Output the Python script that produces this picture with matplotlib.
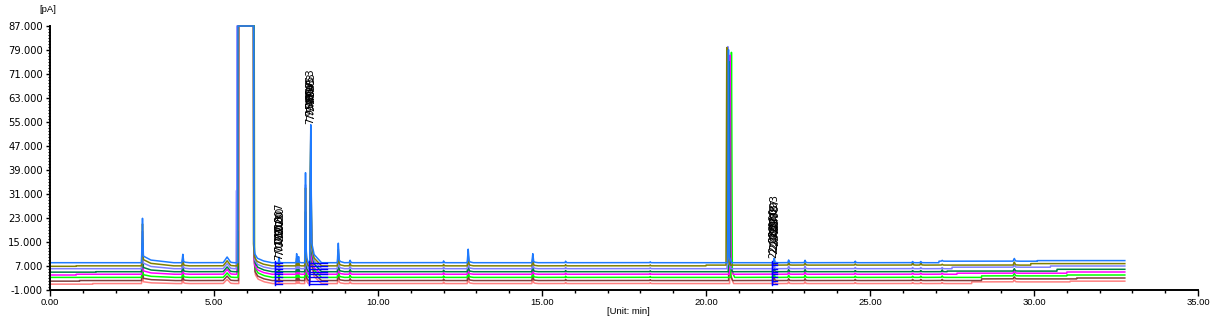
import numpy as np
import matplotlib
matplotlib.use("Agg")
import matplotlib.pyplot as plt
from matplotlib.ticker import MultipleLocator, FormatStrFormatter

# trace order: drawn from bottom (salmon) to top (blue)
traces = ["blue", "olive", "purple", "dkgreen", "magenta", "lime", "brown", "salmon"]
colors = ["#1f7bff", "#808000", "#8080ff", "#008040", "#ff00ff", "#00ff00", "#804040", "#ff8080"]

run_end = 32.77

# baseline levels (pA) and the times where each trace steps to the next level
base_t = [[0, 27.1, 30.1],
          [0, 0.8, 20.0, 29.9],
          [0, 27.5, 30.5],
          [0, 1.4, 27.35, 30.7],
          [0, 0.8, 27.65, 31.0],
          [0, 28.4, 31.0],
          [0, 0.9, 28.4, 31.3],
          [0, 1.3, 28.1, 31.1]]
base_v = [[8.1, 8.6, 8.8],
          [6.9, 7.05, 7.3, 7.8],
          [6.1, 6.6, 7.0],
          [4.95, 5.1, 5.3, 5.9],
          [4.0, 4.25, 4.6, 5.0],
          [3.2, 3.7, 4.0],
          [1.95, 2.15, 2.7, 3.0],
          [0.95, 1.15, 1.7, 1.95]]

# small / medium peaks: retention time, rise width, tail length
peak_rt = [2.82, 4.05, 5.40, 6.98, 7.52, 7.58, 7.79, 7.95, 8.79, 9.15, 12.00, 12.75,
           14.72, 15.72, 18.30, 22.08, 22.52, 23.02, 24.55, 26.30, 26.55, 27.20, 29.40]
peak_w = [0.03, 0.03, 0.12, 0.02, 0.02, 0.02, 0.025, 0.03, 0.03, 0.03, 0.02, 0.03,
          0.03, 0.02, 0.02, 0.03, 0.03, 0.03, 0.03, 0.03, 0.03, 0.03, 0.04]
peak_tail = [0.9, 0.15, 0.1, 0.06, 0.05, 0.05, 0.06, 0.3, 0.15, 0.05, 0.05, 0.12,
             0.12, 0.05, 0.05, 0.08, 0.06, 0.06, 0.06, 0.06, 0.06, 0.06, 0.1]
peak_h = [
    [14.8, 2.8, 1.9, 1.8, 3.0, 2.0, 30.0, 46.0, 6.5, 0.8, 0.6, 4.5, 3.0, 0.5, 0.3, 1.5, 0.9, 0.8, 0.5, 0.4, 0.4, 0.3, 0.9],
    [14.0, 2.5, 1.7, 1.0, 2.5, 1.8, 26.0, 44.0, 5.5, 0.8, 0.5, 3.8, 2.6, 0.4, 0.3, 1.2, 0.8, 0.7, 0.4, 0.8, 0.8, 0.3, 1.0],
    [12.5, 2.5, 1.7, 1.5, 2.5, 1.8, 28.0, 45.0, 5.0, 0.7, 0.5, 3.5, 2.5, 0.4, 0.3, 1.3, 0.8, 0.8, 0.4, 0.4, 0.4, 0.4, 0.8],
    [9.5, 2.2, 1.6, 1.0, 2.2, 1.5, 20.0, 44.0, 4.5, 0.7, 0.5, 3.2, 2.4, 0.4, 0.3, 1.1, 0.7, 0.7, 0.4, 0.4, 0.4, 0.6, 0.8],
    [7.5, 2.0, 1.6, 1.0, 2.0, 1.5, 18.0, 36.0, 4.0, 0.7, 0.5, 3.0, 2.3, 0.4, 0.3, 1.0, 0.7, 0.7, 0.4, 0.4, 0.4, 0.4, 0.8],
    [6.0, 2.0, 1.5, 1.0, 2.0, 1.5, 17.0, 42.0, 4.0, 0.7, 0.5, 3.0, 2.3, 0.4, 0.3, 1.0, 0.7, 0.7, 0.4, 0.4, 0.4, 0.5, 0.8],
    [5.0, 1.8, 1.5, 0.8, 1.8, 1.3, 15.0, 40.0, 3.5, 0.6, 0.5, 2.8, 2.2, 0.4, 0.3, 0.9, 0.6, 0.6, 0.4, 0.4, 0.4, 0.4, 0.7],
    [4.0, 1.8, 1.4, 0.8, 1.8, 1.3, 14.0, 40.0, 3.5, 0.6, 0.5, 2.8, 2.2, 0.4, 0.3, 0.9, 0.6, 0.6, 0.4, 0.4, 0.4, 0.4, 0.7],
]

# solvent peak (saturated at the top of the scale)
solv_start = [5.73, 5.74, 5.70, 5.74, 5.72, 5.74, 5.75, 5.76]
solv_end = [6.20, 6.19, 6.20, 6.21, 6.20, 6.22, 6.21, 6.22]
solv_pre = [0.0, 12.0, 26.0, 0.0, 11.0, 0.0, 0.0, 0.0]
top_pA = 87.0

# main peak near 20.7 min
main_rt = [20.68, 20.63, 20.66, 20.70, 20.73, 20.77, 20.71, 20.74]
main_h = [71.0, 72.5, 74.0, 70.0, 73.0, 75.0, 68.0, 68.0]

# peak labels (rotated retention times), one per trace
label_rt = [7.0, 7.95, 22.08]
label_y0 = [9.0, 54.5, 9.5]
label_dy = [1.4, 1.25, 1.4]
label_dx = [-0.025, 0.015, -0.01, 0.025, -0.02, 0.005, 0.02, -0.005]
label_txt = [["7.017", "7.023", "7.010", "7.027", "7.013", "7.020", "7.030", "7.007"],
             ["7.953", "7.947", "7.960", "7.950", "7.957", "7.943", "7.963", "7.953"],
             ["22.083", "22.090", "22.077", "22.097", "22.080", "22.073", "22.087", "22.093"]]

# integration baseline marks
mark_start = [6.86, 7.90, 22.00]
mark_end = [7.06, 8.45, 22.17]

t = np.arange(0, run_end, 0.001)


def shape(x, y):
    return np.interp(t, x, y, left=0, right=0)


fig = plt.figure(figsize=(12.12, 3.24), dpi=100)
ax = fig.add_axes([50 / 1212, 1 - 290 / 324, 1148 / 1212, 264 / 324])

for i in reversed(range(len(traces))):
    base = np.array(base_v[i])[np.searchsorted(base_t[i], t, side="right") - 1]
    sig = np.zeros_like(t)
    for rt, w, tl, h in zip(peak_rt, peak_w, peak_tail, peak_h[i]):
        sig += shape([rt - w, rt, rt + w * 0.8, rt + w * 0.8 + tl * 0.25, rt + w * 0.8 + tl],
                     [0, h, 0.15 * h, 0.06 * h, 0])
    s, e = solv_start[i], solv_end[i]
    sig += shape([s - 0.025, s - 0.02, s - 0.004, s, e, e + 0.01, e + 0.04, e + 0.12, e + 0.3, e + 0.55],
                 [0, solv_pre[i], solv_pre[i], 200, 200, 8, 3, 1.5, 0.6, 0])
    rt = main_rt[i]
    sig += shape([rt - 0.02, rt, rt + 0.008, rt + 0.03, rt + 0.1], [0, main_h[i], main_h[i], 2.0, 0])
    y = np.minimum(base + sig, top_pA)
    ax.plot(t, y, color=colors[i], lw=1.1, clip_on=False)

    for ms, me in zip(mark_start, mark_end):
        b = base_v[i][np.searchsorted(base_t[i], ms, side="right") - 1]
        ax.plot([ms, me], [b, b], color="#0000ff", lw=1.0)
        ax.plot([ms, ms], [b - 0.5, b + 0.5], color="#0000ff", lw=1.0)

    for g in range(len(label_rt)):
        ax.text(label_rt[g] + label_dx[i], label_y0[g] + label_dy[g] * i, label_txt[g][i],
                rotation=90, ha="center", va="bottom", fontsize=7.2, color="black")

ax.set_xlim(0, 35)
ax.set_ylim(-1, 87)
ax.xaxis.set_major_locator(MultipleLocator(5))
ax.xaxis.set_minor_locator(MultipleLocator(1))
ax.yaxis.set_minor_locator(MultipleLocator(1))
ax.set_yticks(np.arange(-1, 88, 8))
ax.xaxis.set_major_formatter(FormatStrFormatter("%.2f"))
ax.yaxis.set_major_formatter(FormatStrFormatter("%.3f"))
ax.spines["top"].set_visible(False)
ax.spines["right"].set_visible(False)
ax.spines["left"].set_linewidth(1.4)
ax.spines["bottom"].set_linewidth(1.4)
ax.tick_params(axis="x", which="major", length=4.5, width=1, pad=1)
ax.tick_params(axis="x", which="minor", length=2.4, width=1)
ax.tick_params(axis="y", which="major", length=2.6, width=1, pad=2.5)
ax.tick_params(axis="y", which="minor", length=1.5, width=0.8)
for lab in ax.get_xticklabels():
    lab.set_fontfamily("Liberation Sans")
    lab.set_fontsize(6.8)
for lab in ax.get_yticklabels():
    lab.set_fontfamily("DejaVu Sans")
    lab.set_fontsize(7.2)

fig.text(48 / 1212, 1 - 9 / 324, "[pA]", ha="center", va="center", fontsize=6.8, family="Liberation Sans")
fig.text(628 / 1212, 1 - 312 / 324, "[Unit: min]", ha="center", va="center", fontsize=6.8, family="Liberation Sans")

fig.savefig("out.png", dpi=100)
